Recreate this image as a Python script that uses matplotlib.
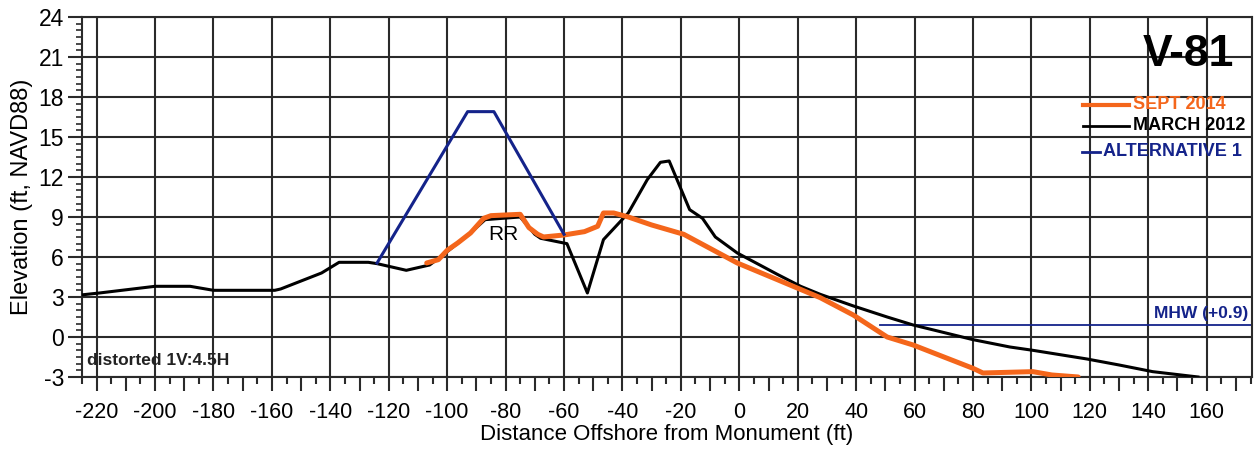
import numpy as np
import matplotlib
matplotlib.use("Agg")
import matplotlib.pyplot as plt
from matplotlib.ticker import MultipleLocator, FuncFormatter
from matplotlib.lines import Line2D

plt.rcParams["font.family"] = ["Liberation Sans", "DejaVu Sans"]
plt.rcParams["axes.unicode_minus"] = False

# perfiles del transecto V-81 (distancia en ft, elevacion en ft NAVD88)
march_x = [-225, -219, -200, -188, -180, -159, -157, -150, -143, -137, -127, -124,
           -114, -106, -100, -92, -87, -75, -70, -68, -59, -52, -46.5, -38, -31.5,
           -27, -24, -17, -12.6, -8.2, -0.7, 13, 21, 27.7, 39, 50.6, 59.5, 80,
           92.6, 100.5, 119, 130, 141.5, 157]
march_y = [3.16, 3.3, 3.8, 3.8, 3.5, 3.5, 3.6, 4.2, 4.8, 5.6, 5.6, 5.5,
           5.0, 5.4, 6.4, 7.8, 8.8, 9.0, 7.7, 7.4, 7.0, 3.3, 7.3, 9.3, 11.8,
           13.1, 13.2, 9.55, 8.9, 7.5, 6.3, 4.7, 3.8, 3.2, 2.33, 1.5, 0.9, -0.2,
           -0.75, -1.0, -1.65, -2.1, -2.6, -3.0]

sept_x = [-107, -103, -100, -96.4, -92, -87.5, -85, -75, -72, -69, -67, -60, -53,
          -48.5, -46.5, -43, -38, -30, -19, -0.7, 13, 27.7, 39, 50.6, 59.5, 80,
          83.4, 100.5, 107, 116]
sept_y = [5.55, 5.8, 6.5, 7.05, 7.8, 8.9, 9.1, 9.2, 8.2, 7.7, 7.5, 7.65, 7.9,
          8.3, 9.3, 9.3, 9.0, 8.4, 7.7, 5.55, 4.3, 2.95, 1.65, 0.0, -0.6, -2.35,
          -2.7, -2.6, -2.85, -3.0]

alt_x = [-124, -93, -84, -60]
alt_y = [5.55, 16.9, 16.9, 7.7]

mhw_x = [48, 176]
mhw_y = 0.9

naranja = "#f4661b"
azul = "#14238a"
rejilla = "#2a2a2a"

fig = plt.figure(figsize=(12.58, 4.49), dpi=100)
ax = fig.add_axes([0.0652, 0.1604, 0.9300, 0.8018])

ax.set_xlim(-225, 175.5)
ax.set_ylim(-3, 24)

# rejilla: verticales cada 20 ft, horizontales cada 3 ft
for gx in np.arange(-220, 175, 20):
    ax.axvline(gx, color=rejilla, lw=1.5, zorder=1)
for gy in np.arange(-3, 25, 3):
    ax.axhline(gy, color=rejilla, lw=1.5, zorder=1)

ax.plot(march_x, march_y, color="black", lw=2.2, zorder=3)
ax.plot(sept_x, sept_y, color=naranja, lw=3.6, zorder=4, solid_capstyle="round")
ax.plot(alt_x, alt_y, color=azul, lw=2.2, zorder=5)
ax.plot(mhw_x, [mhw_y, mhw_y], color=azul, lw=1.3, zorder=2)

# ejes y marcas
for s in ax.spines.values():
    s.set_color(rejilla)
    s.set_linewidth(1.5)

ax.xaxis.set_major_locator(MultipleLocator(10))
ax.xaxis.set_minor_locator(MultipleLocator(5))
ax.xaxis.set_major_formatter(FuncFormatter(lambda v, p: f"{int(round(v))}" if int(round(v)) % 20 == 0 else ""))
ax.yaxis.set_major_locator(MultipleLocator(3))
ax.yaxis.set_minor_locator(MultipleLocator(0.5))
ax.yaxis.set_major_formatter(FuncFormatter(lambda v, p: f"{int(round(v))}"))

ax.tick_params(axis="x", which="major", length=10, width=1.5, color=rejilla,
               labelsize=15.5, pad=8)
ax.tick_params(axis="x", which="minor", length=5, width=1.5, color=rejilla)
ax.tick_params(axis="y", which="major", length=10, width=1.5, color=rejilla,
               labelsize=16.5, pad=3)
ax.tick_params(axis="y", which="minor", length=4, width=1.2, color=rejilla)

ax.set_xlabel("Distance Offshore from Monument (ft)", fontsize=16, labelpad=1)
ax.set_ylabel("Elevation (ft, NAVD88)", fontsize=17, labelpad=4)

# textos
ax.text(0.985, 0.897, "V-81", transform=ax.transAxes, ha="right", va="center",
        fontsize=32, fontweight="bold", zorder=6)
ax.text(-80.7, 7.7, "RR", ha="center", va="center", fontsize=15, zorder=6)
ax.text(0.004, 0.025, "distorted 1V:4.5H", transform=ax.transAxes, ha="left",
        va="bottom", fontsize=12.5, fontweight="bold", color="#222222", zorder=6)
ax.text(0.997, (mhw_y + 3) / 27 + 0.012, "MHW (+0.9)", transform=ax.transAxes,
        ha="right", va="bottom", fontsize=12.5, fontweight="bold", color=azul, zorder=6)

# leyenda hecha a mano
leyenda = [("SEPT 2014", naranja, 0.856, 0.895, 3.0),
           ("MARCH 2012", "black", 0.856, 0.895, 2.0),
           ("ALTERNATIVE 1", azul, 0.855, 0.870, 2.0)]
fila_y = [0.7555, 0.6972, 0.6250]
for (texto, col, x0, x1, lw), fy in zip(leyenda, fila_y):
    ax.add_line(Line2D([x0, x1], [fy, fy], transform=ax.transAxes, color=col,
                       lw=lw, zorder=6))
    ax.text(x1 + 0.003, fy, texto, transform=ax.transAxes, ha="left", va="center",
            fontsize=13, fontweight="bold", color=col, zorder=6)

fig.savefig("out.png", dpi=100)
